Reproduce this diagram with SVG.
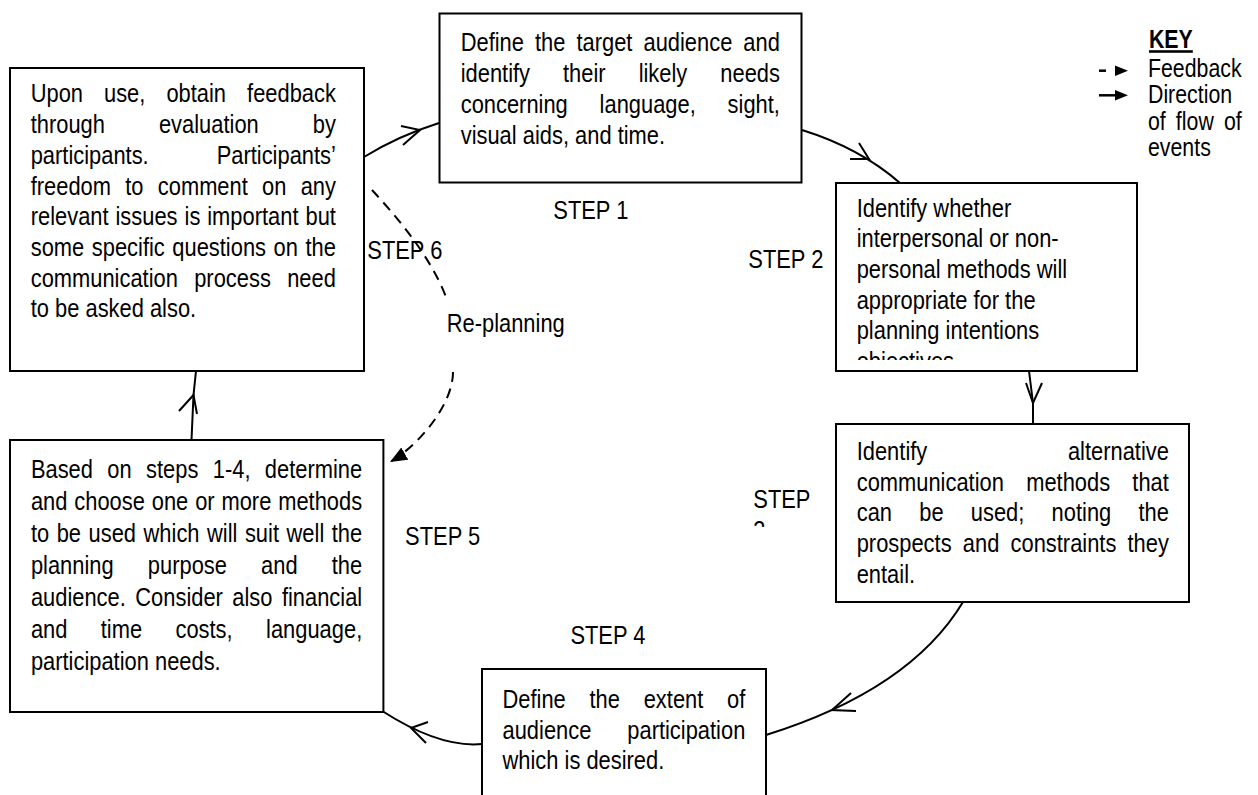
<svg xmlns="http://www.w3.org/2000/svg" width="1258" height="795" viewBox="0 0 1258 795">
<defs>
<style>
.box{fill:#fff;stroke:#000;stroke-width:2}
.t{font-family:"Liberation Sans",Arial,sans-serif;font-size:26.7px;fill:#000}
.k{font-size:26px}
.b{font-weight:bold;text-decoration:underline}
.ln{fill:none;stroke:#000;stroke-width:2}
.dash{stroke-dasharray:10 7}
.head{fill:#000;stroke:none}
</style>
<marker id="fb" markerUnits="userSpaceOnUse" markerWidth="18" markerHeight="14" refX="17" refY="7" orient="auto"><path d="M0,0 L17,7 L0,14 z" fill="#000"/></marker>
<clipPath id="c2"><rect x="836" y="183" width="301" height="177"/></clipPath>
<clipPath id="c3"><rect x="740" y="480" width="90" height="47"/></clipPath>
</defs>
<rect width="1258" height="795" fill="#fff"/>

<g id="connectors">
<path class="ln" d="M364,157 Q398,136 439,123"/>
<polyline class="ln" points="401,126 420,130 403,145"/>
<path class="ln" d="M802,130 Q860,148 900,183"/>
<polyline class="ln" points="850,159 869,159 859,143"/>
<path class="ln" d="M1029,371 L1033,403 L1033,424"/>
<polyline class="ln" points="1026,383 1033,403 1042,383"/>
<path class="ln" d="M963,602 Q910,690 766,735"/>
<polyline class="ln" points="851,693 832,710 856,711"/>
<path class="ln" d="M482,744 Q440,748 383,711.5"/>
<polyline class="ln" points="428,722 411,728 426,743"/>
<path class="ln" d="M191.5,440 L193.5,395 L196,371"/>
<polyline class="ln" points="179,411 193.5,395 197,414"/>
<path class="ln dash" d="M372,190 C395,215 430,255 446,297"/>
<path class="ln dash" d="M453,372 C453,405 418,446 390,462" marker-end="url(#fb)"/>
</g>

<g id="step1">
<rect class="box" x="439.5" y="13.5" width="362" height="169"/>
<g class="t" transform="translate(460.7 0) scale(0.82 1)">
<text y="51.5"><tspan x="0">Define</tspan><tspan x="90.6">the</tspan><tspan x="141.2">target</tspan><tspan x="222.9">audience</tspan><tspan x="344.7">and</tspan></text>
<text y="82.2"><tspan x="0">identify</tspan><tspan x="124.8">their</tspan><tspan x="217">likely</tspan><tspan x="316.6">needs</tspan></text>
<text y="112.9"><tspan x="0">concerning</tspan><tspan x="169.4">language,</tspan><tspan x="325.5">sight,</tspan></text>
<text y="143.6" x="0">visual aids, and time.</text>
</g>
</g>

<g id="step2">
<rect class="box" x="836" y="183" width="301" height="188"/>
<g clip-path="url(#c2)">
<g class="t" transform="translate(856.7 0) scale(0.82 1)">
<text x="0" y="216.7">Identify whether</text>
<text x="0" y="247.4">interpersonal or non-</text>
<text x="0" y="278.1">personal methods will</text>
<text x="0" y="308.8">appropriate for the</text>
<text x="0" y="339.5">planning intentions</text>
<text x="0" y="370.2">objectives</text>
</g>
</g>
</g>

<g id="step3">
<rect class="box" x="836" y="424" width="353" height="178"/>
<g class="t" transform="translate(856.7 0) scale(0.82 1)">
<text y="460"><tspan x="0">Identify</tspan><tspan x="257.6">alternative</tspan></text>
<text y="490.7"><tspan x="0">communication</tspan><tspan x="206.7">methods</tspan><tspan x="336.2">that</tspan></text>
<text y="521.4"><tspan x="0">can</tspan><tspan x="76.3">be</tspan><tspan x="139.2">used;</tspan><tspan x="237.7">noting</tspan><tspan x="343.6">the</tspan></text>
<text y="552.1"><tspan x="0">prospects</tspan><tspan x="129.4">and</tspan><tspan x="187.6">constraints</tspan><tspan x="330.3">they</tspan></text>
<text x="0" y="582.8">entail.</text>
</g>
</g>

<g id="step4">
<rect class="box" x="482" y="669" width="284" height="150"/>
<g class="t" transform="translate(502.5 0) scale(0.82 1)">
<text y="708"><tspan x="0">Define</tspan><tspan x="106.1">the</tspan><tspan x="172.2">extent</tspan><tspan x="273.9">of</tspan></text>
<text y="738.7"><tspan x="0">audience</tspan><tspan x="152.2">participation</tspan></text>
<text x="0" y="769.4">which is desired.</text>
</g>
</g>

<g id="step5">
<rect class="box" x="10" y="440" width="373.4" height="272"/>
<g class="t" transform="translate(30.9 0) scale(0.82 1)">
<text y="478"><tspan x="0">Based</tspan><tspan x="93.2">on</tspan><tspan x="140.4">steps</tspan><tspan x="221.8">1-4,</tspan><tspan x="285.3">determine</tspan></text>
<text y="510"><tspan x="0">and</tspan><tspan x="52.9">choose</tspan><tspan x="147.4">one</tspan><tspan x="200.3">or</tspan><tspan x="232.4">more</tspan><tspan x="301.6">methods</tspan></text>
<text y="542"><tspan x="0">to</tspan><tspan x="31.4">be</tspan><tspan x="70.3">used</tspan><tspan x="137.4">which</tspan><tspan x="214.8">will</tspan><tspan x="261">suit</tspan><tspan x="311.8">well</tspan><tspan x="366.9">the</tspan></text>
<text y="574"><tspan x="0">planning</tspan><tspan x="142.6">purpose</tspan><tspan x="280.7">and</tspan><tspan x="366.9">the</tspan></text>
<text y="606"><tspan x="0">audience.</tspan><tspan x="127.3">Consider</tspan><tspan x="245.6">also</tspan><tspan x="306.1">financial</tspan></text>
<text y="638"><tspan x="0">and</tspan><tspan x="85.2">time</tspan><tspan x="176.3">costs,</tspan><tspan x="286.8">language,</tspan></text>
<text x="0" y="670">participation needs.</text>
</g>
</g>

<g id="step6">
<rect class="box" x="10" y="68" width="354" height="303"/>
<g class="t" transform="translate(30.7 0) scale(0.82 1)">
<text y="102.5"><tspan x="0">Upon</tspan><tspan x="89.4">use,</tspan><tspan x="165.5">obtain</tspan><tspan x="263.9">feedback</tspan></text>
<text y="133.2"><tspan x="0">through</tspan><tspan x="156.4">evaluation</tspan><tspan x="344">by</tspan></text>
<text y="163.9"><tspan x="0">participants.</tspan><tspan x="226.8">Participants’</tspan></text>
<text y="194.6"><tspan x="0">freedom</tspan><tspan x="115.3">to</tspan><tspan x="155">comment</tspan><tspan x="282.1">on</tspan><tspan x="329.2">any</tspan></text>
<text y="225.3"><tspan x="0">relevant</tspan><tspan x="103.4">issues</tspan><tspan x="187.6">is</tspan><tspan x="215.3">important</tspan><tspan x="335.1">but</tspan></text>
<text y="256"><tspan x="0">some</tspan><tspan x="74.5">specific</tspan><tspan x="172.7">questions</tspan><tspan x="296.2">on</tspan><tspan x="335.1">the</tspan></text>
<text y="286.7"><tspan x="0">communication</tspan><tspan x="199.4">process</tspan><tspan x="312.8">need</tspan></text>
<text x="0" y="317.4">to be asked also.</text>
</g>
</g>

<g id="labels" class="t">
<text transform="translate(553.3 219) scale(0.82 1)">STEP 1</text>
<text transform="translate(748.3 268) scale(0.82 1)">STEP 2</text>
<g clip-path="url(#c3)">
<text transform="translate(753.3 508.3) scale(0.82 1)">STEP</text>
<text transform="translate(753.3 539) scale(0.82 1)">3</text>
</g>
<text transform="translate(570.4 644) scale(0.82 1)">STEP 4</text>
<text transform="translate(405.1 544.5) scale(0.82 1)">STEP 5</text>
<text transform="translate(367.3 259) scale(0.82 1)">STEP 6</text>
<text transform="translate(446.7 332) scale(0.82 1)">Re-planning</text>
</g>

<g id="key">
<line class="ln" x1="1099" y1="70.7" x2="1106" y2="70.7" style="stroke-width:2.5"/>
<polygon class="head" points="1115,65.5 1128,70.7 1115,76"/>
<line class="ln" x1="1099" y1="95.3" x2="1116" y2="95.3" style="stroke-width:2.5"/>
<polygon class="head" points="1115,90 1128,95.3 1115,100.6"/>
<g class="t k" transform="translate(1148 0) scale(0.82 1)">
<text class="b" x="1.2" y="48">KEY</text>
<text x="0" y="77">Feedback</text>
<text x="0" y="103.5">Direction</text>
<text y="130"><tspan x="0">of</tspan><tspan x="34">flow</tspan><tspan x="92.6">of</tspan></text>
<text x="0" y="156.5">events</text>
</g>
</g>
</svg>
